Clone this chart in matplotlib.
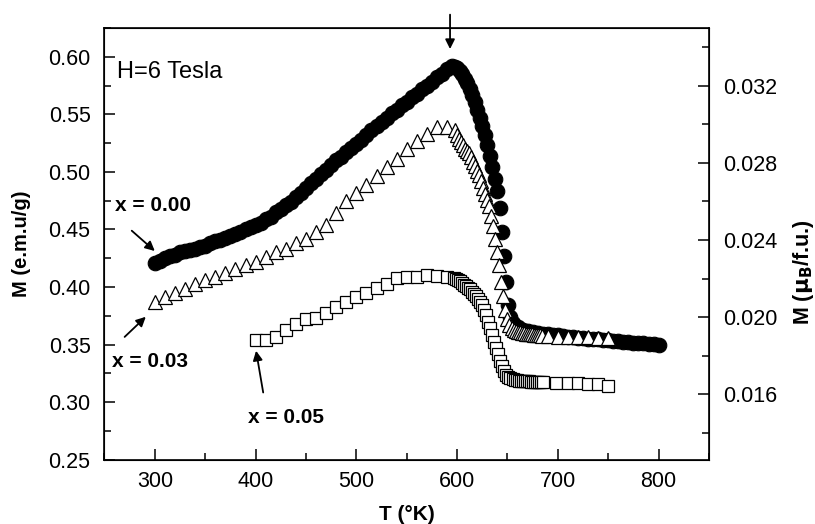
import matplotlib
matplotlib.use('Agg')
import matplotlib.pyplot as plt
from matplotlib.ticker import MultipleLocator, FormatStrFormatter

plt.rcParams['font.family'] = ['Liberation Sans', 'DejaVu Sans']

# x = 0.00 (filled circles)
t_000 = [300, 305, 310, 315, 320, 325, 330, 335, 340, 345, 350, 355, 360, 365, 370,
         375, 380, 385, 390, 395, 400, 405, 410, 415, 420, 425, 430, 435, 440, 445,
         450, 455, 460, 465, 470, 475, 480, 485, 490, 495, 500, 505, 510, 515, 520,
         525, 530, 535, 540, 545, 550, 555, 560, 565, 570, 575, 580, 585, 590, 595,
         597.5, 600, 602.5, 605, 607.5, 610, 612.5, 615, 617.5, 620, 622.5, 625,
         627.5, 630, 632.5, 635, 637.5, 640, 642.5, 645, 647, 649, 651, 653, 655,
         657.5, 660, 665, 670, 675, 680, 685, 690, 695, 700, 705, 710, 715, 720, 725,
         730, 735, 740, 745, 750, 755, 760, 765, 770, 775, 780, 785, 790, 795, 800]
m_000 = [0.421, 0.423, 0.425, 0.427, 0.428, 0.430, 0.431, 0.432, 0.433, 0.435,
         0.436, 0.438, 0.440, 0.441, 0.443, 0.444, 0.446, 0.448, 0.450, 0.452,
         0.454, 0.456, 0.459, 0.461, 0.465, 0.468, 0.471, 0.474, 0.478, 0.482,
         0.486, 0.490, 0.494, 0.498, 0.502, 0.506, 0.510, 0.513, 0.517, 0.521,
         0.524, 0.528, 0.532, 0.536, 0.540, 0.543, 0.547, 0.551, 0.554, 0.558,
         0.561, 0.565, 0.568, 0.572, 0.575, 0.578, 0.582, 0.585, 0.589, 0.592,
         0.5915, 0.590, 0.588, 0.585, 0.581, 0.577, 0.572, 0.567, 0.561, 0.554,
         0.547, 0.540, 0.532, 0.523, 0.514, 0.504, 0.494, 0.483, 0.469, 0.448,
         0.427, 0.404, 0.384, 0.374, 0.369,
         0.366, 0.365, 0.363, 0.362, 0.361, 0.360, 0.3595, 0.359, 0.3585, 0.358,
         0.3575, 0.357, 0.3565, 0.356, 0.3556, 0.3552, 0.3548, 0.3545, 0.3542, 0.354,
         0.3535, 0.353, 0.3525, 0.352, 0.3518, 0.3515, 0.351, 0.3505, 0.3502, 0.350]

# x = 0.03 (open triangles)
t_003 = [300, 310, 320, 330, 340, 350, 360, 370, 380, 390, 400, 410, 420, 430, 440,
         450, 460, 470, 480, 490, 500, 510, 520, 530, 540, 550, 560, 570, 580, 590,
         598, 600, 602, 604, 606, 608, 610, 612, 614, 616, 618, 620, 622, 624, 626,
         628, 630, 632, 634, 636, 638, 640, 642, 644, 646, 648, 650, 652, 654, 656,
         658, 660, 662, 664, 666, 668, 670, 672, 674, 676, 678, 680, 682, 684,
         690, 700, 710, 720, 730, 740, 750]
m_003 = [0.387, 0.391, 0.395, 0.398, 0.403, 0.406, 0.409, 0.412, 0.416, 0.419,
         0.422, 0.426, 0.430, 0.433, 0.438, 0.442, 0.448, 0.454, 0.464, 0.4745,
         0.482, 0.489, 0.4965, 0.504, 0.5115, 0.520, 0.527, 0.533, 0.539, 0.539,
         0.536, 0.532, 0.529, 0.526, 0.523, 0.520, 0.518, 0.516, 0.513, 0.509,
         0.505, 0.501, 0.497, 0.492, 0.486, 0.481, 0.476, 0.470, 0.462, 0.453,
         0.442, 0.430, 0.419, 0.404, 0.392, 0.380, 0.372, 0.367, 0.364, 0.3625,
         0.3615, 0.361, 0.3605, 0.360, 0.3597, 0.3595, 0.3592, 0.359, 0.3588, 0.3586,
         0.3584, 0.3582, 0.358, 0.3578,
         0.3575, 0.357, 0.3568, 0.3565, 0.3562, 0.356, 0.3555]

# x = 0.05 (open squares)
t_005 = [400, 410, 420, 430, 440, 450, 460, 470, 480, 490, 500, 510, 520, 530, 540,
         550, 560, 570, 580, 590,
         597, 599, 601, 603, 605, 607, 609, 611, 613, 615, 617, 619, 621, 623, 625,
         627, 629, 631, 633, 635, 637, 639, 641, 643, 645, 647, 649, 651, 653, 655,
         657, 659, 661, 663, 665, 667, 669, 671, 673, 675, 677, 679, 681, 683, 685,
         698, 710, 720, 730, 740, 750]
m_005 = [0.354, 0.354, 0.3564, 0.3627, 0.3677, 0.372, 0.3729, 0.3778, 0.383, 0.3873,
         0.3911, 0.3952, 0.399, 0.4027, 0.4077, 0.4091, 0.4091, 0.4105, 0.4099, 0.4091,
         0.408, 0.407, 0.406, 0.405, 0.4035, 0.402, 0.401, 0.3995, 0.398, 0.396,
         0.394, 0.392, 0.390, 0.387, 0.384, 0.380, 0.3755, 0.370, 0.364, 0.358,
         0.352, 0.347, 0.342, 0.336, 0.331, 0.327, 0.324, 0.322, 0.321, 0.320,
         0.3195, 0.319, 0.3187, 0.3185, 0.3183, 0.318, 0.318, 0.318, 0.3178, 0.3178,
         0.3178, 0.3177, 0.3177, 0.3177, 0.3176,
         0.317, 0.3165, 0.3165, 0.316, 0.3157, 0.3143]

fig = plt.figure(figsize=(8.15, 5.24), dpi=100)
ax = fig.add_axes([0.1282, 0.1227, 0.7417, 0.8239])

ax.plot(t_000, m_000, 'o', ms=10.5, mfc='black', mec='black', mew=0.8, ls='none', zorder=2)
ax.plot(t_003, m_003, '^', ms=10.5, mfc='white', mec='black', mew=0.9, ls='none', zorder=3)
ax.plot(t_005, m_005, 's', ms=8, mfc='white', mec='black', mew=0.9, ls='none', zorder=4)

ax.set_xlim(250, 850)
ax.set_ylim(0.25, 0.625)
ax.xaxis.set_major_locator(MultipleLocator(100))
ax.xaxis.set_minor_locator(MultipleLocator(50))
ax.yaxis.set_major_locator(MultipleLocator(0.05))
ax.yaxis.set_minor_locator(MultipleLocator(0.025))
ax.yaxis.set_major_formatter(FormatStrFormatter('%.2f'))
ax.tick_params(which='both', direction='in', top=False, right=False, width=1.1)
ax.tick_params(which='major', length=8, labelsize=15.5)
ax.tick_params(which='minor', length=5)
ax.tick_params(axis='y', pad=10)
ax.tick_params(axis='x', pad=8)
for s in ax.spines.values():
    s.set_linewidth(1.2)

ax2 = ax.twinx()
ax2.set_ylim(0.01259, 0.03501)
ax2.yaxis.set_major_locator(MultipleLocator(0.004))
ax2.yaxis.set_minor_locator(MultipleLocator(0.002))
ax2.yaxis.set_major_formatter(FormatStrFormatter('%.3f'))
ax2.tick_params(which='both', direction='in', width=1.1)
ax2.tick_params(which='major', length=8, labelsize=15.5, pad=10)
ax2.tick_params(which='minor', length=5)

fig.text(22 / 815, 1 - 244 / 524, 'M (e.m.u/g)', rotation=90, ha='center', va='center',
         fontsize=14.5, fontweight='bold')
fig.text(407 / 815, 1 - 514 / 524, 'T (°K)', ha='center', va='center',
         fontsize=15, fontweight='bold')
fig.text(803 / 815, 1 - 272 / 524, r'M ($\mathbf{\mu}_\mathbf{B}$/f.u.)', rotation=90,
         ha='center', va='center', fontsize=15.5, fontweight='bold')

ax.text(262, 0.587, 'H=6 Tesla', fontsize=17, va='center', ha='left')

bold = dict(fontsize=15, fontweight='bold', ha='left', va='center')
arrow = dict(arrowstyle='-|>', color='black', lw=1.3, mutation_scale=14)
ax.text(260, 0.4705, 'x = 0.00', **bold)
ax.annotate('', xy=(302, 0.4297), xytext=(275, 0.4505), arrowprops=arrow)
ax.text(257, 0.335, 'x = 0.03', **bold)
ax.annotate('', xy=(293, 0.3758), xytext=(268, 0.355), arrowprops=arrow)
ax.text(392, 0.287, 'x = 0.05', **bold)
ax.annotate('', xy=(400, 0.347), xytext=(408, 0.306), arrowprops=arrow)
ax.annotate('', xy=(593, 0.6043), xytext=(593, 0.639), arrowprops=arrow,
            annotation_clip=False)

plt.savefig('out.png', dpi=100)
plt.close(fig)
